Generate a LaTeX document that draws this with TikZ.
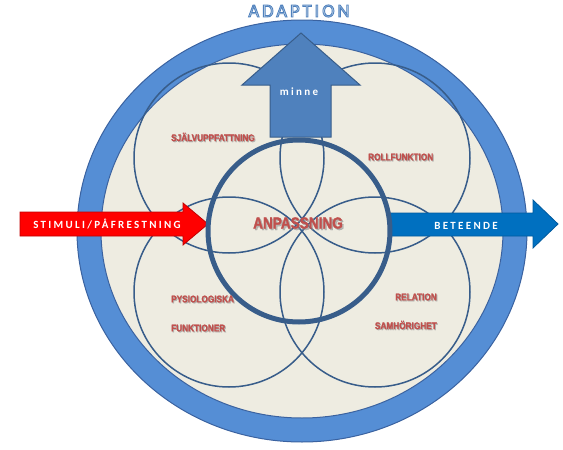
\documentclass[tikz,border=0pt]{standalone}
\usepackage{fontspec}
\newfontfamily\arrowfont{Carlito}[LetterSpace=21, UprightFont=* Bold]
\newfontfamily\titlefont[LetterSpace=16]{Carlito}
\newfontfamily\redfont{Liberation Sans}[UprightFont=* Bold, FakeStretch=0.85, FakeBold=1.6]
\definecolor{ringblue}{HTML}{558ED5}
\definecolor{ringborder}{HTML}{3A62A0}
\definecolor{darkline}{HTML}{385D8A}
\definecolor{beige}{HTML}{EEECE1}
\definecolor{minneblue}{HTML}{4F81BD}
\definecolor{redarrow}{HTML}{FF0000}
\definecolor{redborder}{HTML}{C00000}
\definecolor{bluearrow}{HTML}{0070C0}
\definecolor{blueborder}{HTML}{005A9E}
\definecolor{labelred}{HTML}{C0504D}
\definecolor{titlefill}{HTML}{DCE6F2}
\newcommand{\outlinedtext}[1]{\special{pdf:literal direct 0.31 0.506 0.741 RG 0.9 w 2 Tr}#1\special{pdf:literal direct 0 Tr}}
\tikzset{
  petal/.style={draw=darkline, line width=1.5pt},
  arrowtext/.style={text=white, font=\arrowfont\fontsize{11}{12}\selectfont, inner sep=0pt},
  redlabel/.style={text=labelred, font=\redfont\fontsize{9.7}{11}\selectfont, inner sep=0pt},
  redshadow/.style={text=black!45, opacity=0.55, font=\redfont\fontsize{9.7}{11}\selectfont, inner sep=0pt},
  titletext/.style={font=\titlefont\fontsize{18.6}{20}\selectfont, inner sep=0pt}
}
\begin{document}
\begin{tikzpicture}[x=1pt,y=-1pt]
\useasboundingbox (0,0) rectangle (563,450);
% outer ring
\coordinate (C) at (302,231);
\fill[ringblue, draw=ringborder, line width=1pt] (C) ellipse [x radius=225, y radius=211];
\fill[beige, draw=ringborder, line width=1pt] (C) ellipse [x radius=201, y radius=187];
% petals
\draw[petal] (229,158) circle [radius=95];
\draw[petal] (375,158) circle [radius=95];
\draw[petal] (229,292) circle [radius=95];
\draw[petal] (375,292) circle [radius=95];
% up arrow
\fill[minneblue, draw=darkline, line width=1pt, line join=miter]
  (270,137) -- (270,85) -- (242,85) -- (301,33) -- (360,85) -- (331,85) -- (331,137) -- cycle;
% left arrow
\fill[redarrow, draw=redborder, line width=0.8pt]
  (20,212) -- (183,212) -- (183,203) -- (208,224) -- (183,245) -- (183,236) -- (20,236) -- cycle;
% right arrow
\fill[bluearrow, draw=blueborder, line width=0.8pt]
  (389,213) -- (533,213) -- (533,200) -- (558,224) -- (533,248) -- (533,236) -- (389,236) -- cycle;
% inner thick circle
\draw[draw=darkline, line width=5pt] (299,231) circle [radius=91];
% arrow texts
\node[arrowtext] (minne) at (299,92) {minne};
\node[arrowtext] (stimuli) at (107,224) {STIMULI/PÅFRESTNING};
\node[arrowtext] (beteende) at (466,226) {BETEENDE};
% title
\node[titletext, text=titlefill] (title) at (299,11) {\outlinedtext{ADAPTION}};
% red labels with shadows
\node[redshadow, anchor=west] at (172,138) {SJÄLVUPPFATTNING};
\node[redlabel, anchor=west] (sjalv) at (171,137) {SJÄLVUPPFATTNING};
\node[redshadow, anchor=west] at (369,158) {ROLLFUNKTION};
\node[redlabel, anchor=west] (roll) at (368,157) {ROLLFUNKTION};
\node[redshadow, anchor=west] at (172,300) {PYSIOLOGISKA};
\node[redlabel, anchor=west] (pys) at (171,299) {PYSIOLOGISKA};
\node[redshadow, anchor=west] at (172,329) {FUNKTIONER};
\node[redlabel, anchor=west] (funk) at (171,328) {FUNKTIONER};
\node[redshadow, anchor=east] at (438,298) {RELATION};
\node[redlabel, anchor=east] (rel) at (437,297) {RELATION};
\node[redshadow, anchor=east] at (438,326) {SAMHÖRIGHET};
\node[redlabel, anchor=east] (samh) at (437,325) {SAMHÖRIGHET};
\node[redshadow, font=\redfont\fontsize{16}{18}\selectfont] at (299.5,224.5) {ANPASSNING};
\node[redlabel, font=\redfont\fontsize{16}{18}\selectfont] (anp) at (298,223) {ANPASSNING};
\end{tikzpicture}
\end{document}
